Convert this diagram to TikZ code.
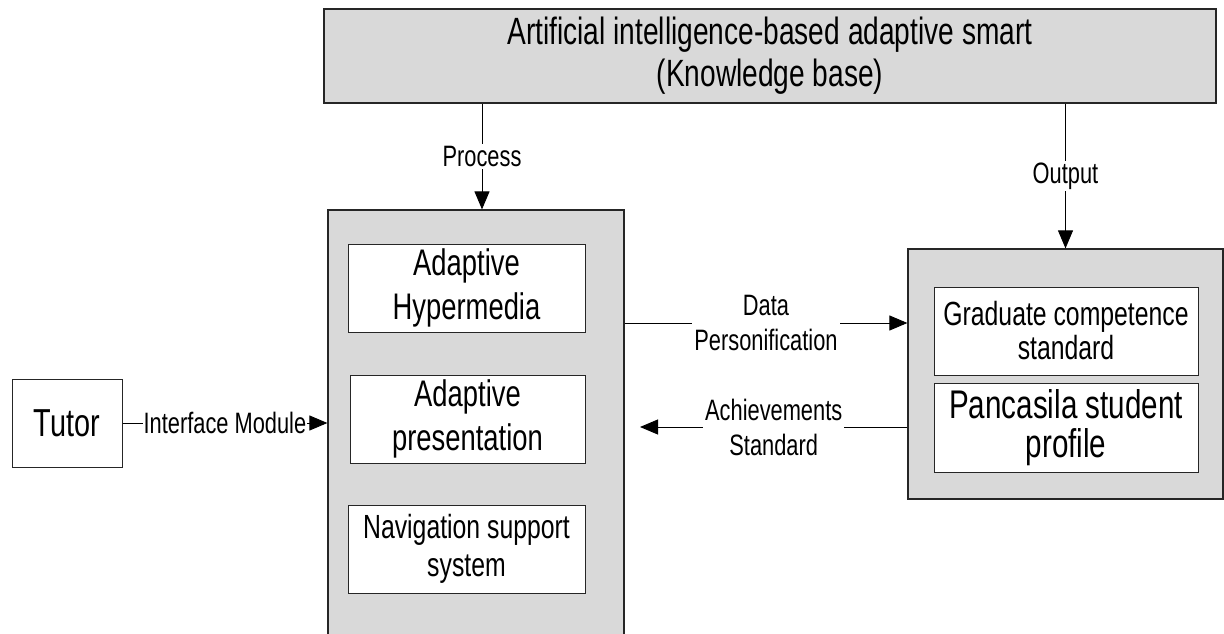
\documentclass[tikz,border=0pt]{standalone}
\usepackage{fontspec}
\setmainfont[FakeStretch=0.74]{Liberation Sans}
\usetikzlibrary{arrows.meta}
\definecolor{boxgray}{RGB}{217,217,217}
\tikzset{every picture/.style={line width=0.75pt}}
\tikzset{
  outerbox/.style={draw=black!85,fill=boxgray,line width=1.2pt,inner sep=0pt,align=center},
  innerbox/.style={draw=black!85,fill=white,line width=1pt,inner sep=0pt,align=center},
  arr/.style={-{Triangle[length=18pt,width=15pt]},line width=0.9pt},
  lbl/.style={fill=white,inner sep=2pt,align=center,font=\fontsize{29.5pt}{35pt}\selectfont},
}

\begin{document}
\begin{tikzpicture}[x=1pt,y=-1pt]
\useasboundingbox (0,0) rectangle (1224,634);
\clip (0,0) rectangle (1224,634);
% knowledge base
\node[outerbox,minimum width=892pt,minimum height=94pt,font=\fontsize{38pt}{42pt}\selectfont] (kb) at (770,56) {Artificial intelligence-based adaptive smart\\(Knowledge base)};
% process block (runs off the bottom)
\node[outerbox,minimum width=296pt,minimum height=440pt] (mid) at (476,430) {};
\node[innerbox,minimum width=237pt,minimum height=88pt,font=\fontsize{37pt}{44pt}\selectfont] (hyper) at (466.5,288) {Adaptive\\Hypermedia};
\node[innerbox,minimum width=235pt,minimum height=88pt,font=\fontsize{37pt}{44pt}\selectfont] (pres) at (467.5,419) {Adaptive\\presentation};
\node[innerbox,minimum width=237pt,minimum height=88pt,font=\fontsize{33.5pt}{38pt}\selectfont] (nav) at (466.5,549) {Navigation support\\system};
% output block
\node[outerbox,minimum width=315pt,minimum height=250pt] (rbox) at (1065.5,374) {};
\node[innerbox,minimum width=264pt,minimum height=88pt,font=\fontsize{33.5pt}{34pt}\selectfont] (grad) at (1066,331) {Graduate competence\\standard};
\node[innerbox,minimum width=264pt,minimum height=89pt,font=\fontsize{40pt}{39pt}\selectfont] (panc) at (1066,427.5) {Pancasila student\\profile};
% tutor
\node[draw=black!85,line width=1pt,minimum width=110pt,minimum height=88pt,inner sep=0pt,font=\fontsize{39pt}{42pt}\selectfont] (tutor) at (67,423) {Tutor};
% helper points
\coordinate (px) at (482,0);
\coordinate (dp) at (0,323);
\coordinate (ach) at (640,427);
% connectors
\draw[arr] (kb.south -| px) -- node[lbl]{Process} (mid.north -| px);
\draw[arr] (kb.south -| rbox.north) -- node[lbl]{Output} (rbox.north);
\draw[arr] (tutor.east) -- node[lbl,inner sep=1pt]{Interface Module} (tutor.east -| mid.west);
\draw[arr] (mid.east |- dp) -- node[lbl]{Data\\Personification} (rbox.west |- dp);
\draw[arr] (rbox.west |- ach) -- node[lbl]{Achievements\\Standard} (ach);
\end{tikzpicture}
\end{document}
